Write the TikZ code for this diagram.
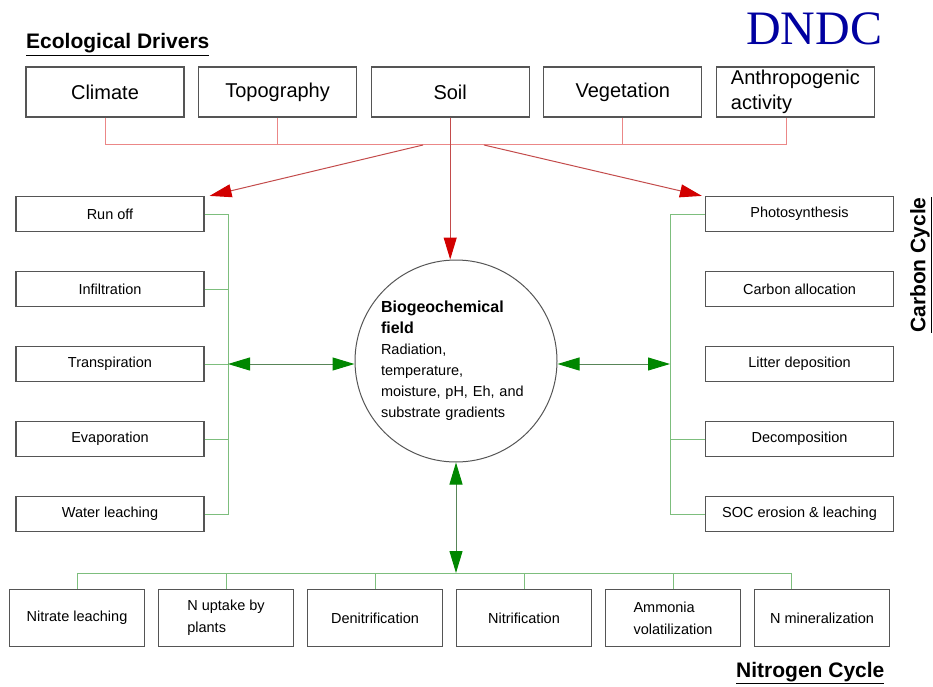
\documentclass[tikz,border=0pt]{standalone}
\usepackage{fontspec}
\setmainfont{Liberation Sans}
\newfontfamily\dndcfont{Liberation Serif}
\usetikzlibrary{arrows.meta,calc}
\definecolor{boxgray}{RGB}{85,85,85}
\definecolor{busred}{RGB}{235,135,135}
\definecolor{lnred}{RGB}{195,75,75}
\definecolor{tipred}{RGB}{210,0,0}
\definecolor{busgreen}{RGB}{125,190,125}
\definecolor{tipgreen}{RGB}{0,135,0}
\definecolor{dndcblue}{RGB}{0,0,160}

\begin{document}
\begin{tikzpicture}[x=1pt,y=-1pt,
  drvbox/.style={draw=boxgray,line width=1.2pt,minimum width=158pt,minimum height=50pt,inner sep=0pt,font=\fontsize{20}{25}\selectfont},
  procbox/.style={draw=boxgray,line width=1.2pt,minimum width=188pt,minimum height=35pt,inner sep=0pt,font=\fontsize{14.5}{18}\selectfont},
  nbox/.style={draw=boxgray,line width=1.2pt,minimum width=135pt,minimum height=57pt,inner sep=0pt,font=\fontsize{14.5}{22}\selectfont},
  title/.style={inner sep=0pt,font=\fontsize{21}{25}\selectfont\bfseries},
  redline/.style={draw=busred,line width=1pt},
  redarrow/.style={draw=lnred,line width=1pt,-{Triangle[length=22pt,width=13pt,color=tipred]}},
  greenline/.style={draw=busgreen,line width=1pt},
  greenarrow/.style={draw=busgreen!70!black,line width=1pt,{Triangle[length=22pt,width=13pt,color=tipgreen]}-{Triangle[length=22pt,width=13pt,color=tipgreen]}}]
  \useasboundingbox (0,0) rectangle (933,687);

  \node[title,anchor=base west] (ecotitle) at (26,49) {\underline{Ecological Drivers}};
  \node[anchor=base west,inner sep=0pt,text=dndcblue,font=\dndcfont\fontsize{48}{50}\selectfont] (dndc) at (746,45) {DNDC};
  \node[title,rotate=90] (carbtitle) at (921,265) {\underline{Carbon Cycle}};
  \node[title,anchor=base west] (nitrotitle) at (736,677) {\underline{Nitrogen Cycle}};

  \begin{scope}[node distance=172.6pt]
    \node[drvbox] (climate) at (105,92) {Climate};
    \node[drvbox] (topo) [right of=climate] {Topography};
    \node[drvbox] (soil) [right of=topo] {Soil};
    \node[drvbox] (veg) [right of=soil] {Vegetation};
    \node[drvbox,align=left] (anthro) [right of=veg] {Anthropogenic\\activity};
  \end{scope}

  \begin{scope}[node distance=75pt]
    \node[procbox] (runoff) at (110,214) {Run off};
    \node[procbox] (infil) [below of=runoff] {Infiltration};
    \node[procbox] (transp) [below of=infil] {Transpiration};
    \node[procbox] (evap) [below of=transp] {Evaporation};
    \node[procbox] (leach) [below of=evap] {Water leaching};
    \node[procbox] (photo) at (799.5,214) {Photosynthesis};
    \node[procbox] (callo) [below of=photo] {Carbon allocation};
    \node[procbox] (litter) [below of=callo] {Litter deposition};
    \node[procbox] (decomp) [below of=litter] {Decomposition};
    \node[procbox] (soc) [below of=decomp] {SOC erosion \& leaching};
  \end{scope}

  \begin{scope}[node distance=149pt]
    \node[nbox] (nleach) at (77,618) {Nitrate leaching};
    \node[nbox,align=left] (nuptake) [right of=nleach] {N uptake by\\plants};
    \node[nbox] (denit) [right of=nuptake] {Denitrification};
    \node[nbox] (nitri) [right of=denit] {Nitrification};
    \node[nbox,align=left] (ammon) [right of=nitri] {Ammonia\\volatilization};
    \node[nbox] (nmin) [right of=ammon] {N mineralization};
  \end{scope}

  \node[draw=boxgray,line width=1pt,circle,minimum size=202pt,inner sep=0pt,text width=150pt,align=left,font=\fontsize{14.5}{21}\selectfont] (field) at (456,361)
    {{\fontsize{16}{21}\selectfont\bfseries Biogeochemical}\\{\fontsize{16}{21}\selectfont\bfseries field}\\Radiation,\\temperature,\\moisture, pH, Eh, and\\substrate gradients};

  \coordinate (redbus) at (0,145);
  \coordinate (forkl) at (423,145);
  \coordinate (forkr) at (484,145);
  \draw[redline] (climate.south) -- (climate.south |- redbus) -- ([xshift=-9pt]anthro.south |- redbus) -- ([xshift=-9pt]anthro.south);
  \foreach \drv in {topo,soil,veg}
    \draw[redline] (\drv.south) -- (\drv.south |- redbus);
  \draw[redarrow] (forkl) -- ($(runoff.north east)+(5,0)$);
  \draw[redarrow] (forkr) -- ($(photo.north west)+(-3,0)$);
  \draw[redarrow] (soil.south) -- (soil.south |- field.north);

  \coordinate (wbus) at (228,0);
  \draw[greenline] (runoff.east) -- (runoff.east -| wbus) -- (leach.east -| wbus) -- (leach.east);
  \foreach \proc in {infil,transp,evap}
    \draw[greenline] (\proc.east) -- (\proc.east -| wbus);
  \draw[greenarrow] (transp.east -| wbus) -- (transp.east -| field.west);

  \coordinate (cbus) at (670,0);
  \draw[greenline] (photo.west) -- (photo.west -| cbus) -- (soc.west -| cbus) -- (soc.west);
  \draw[greenline] (decomp.west) -- (decomp.west -| cbus);
  \draw[greenarrow] (litter.west -| field.east) -- (litter.west -| cbus);

  \coordinate (nbus) at (0,573);
  \draw[greenline] (nleach.north) -- (nleach.north |- nbus) -- ([xshift=-31pt]nmin.north |- nbus) -- ([xshift=-31pt]nmin.north);
  \foreach \proc in {nuptake,denit,nitri,ammon}
    \draw[greenline] (\proc.north) -- (\proc.north |- nbus);
  \draw[greenarrow] (field.south) -- (field.south |- nbus);
\end{tikzpicture}
\end{document}
